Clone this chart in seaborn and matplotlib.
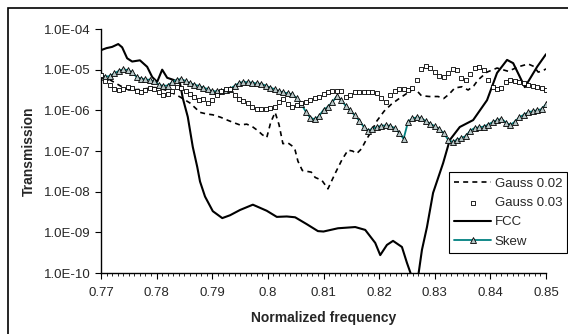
## Transmission vs normalized frequency (log scale)
import numpy as np
import pandas as pd
import seaborn as sns
import matplotlib.pyplot as plt
from matplotlib.patches import Rectangle
from matplotlib.ticker import FixedLocator, MultipleLocator, FuncFormatter

## Data (values are log10 of transmission)
# Gauss 0.02 - dashed line
g02_x = [0.7700, 0.7716, 0.7735, 0.7750, 0.7765, 0.7780, 0.7795, 0.7806, 0.7825, 0.7842,
         0.7860, 0.7878, 0.7890, 0.7901, 0.7915, 0.7927, 0.7940, 0.7950, 0.7962, 0.7972,
         0.7982, 0.7990, 0.7998, 0.8005, 0.8013, 0.8020, 0.8027, 0.8036, 0.8043, 0.8049,
         0.8054, 0.8062, 0.8070, 0.8078, 0.8085, 0.8097, 0.8108, 0.8121, 0.8133, 0.8144,
         0.8152, 0.8160, 0.8168, 0.8177, 0.8186, 0.8196, 0.8209, 0.8222, 0.8235, 0.8248,
         0.8261, 0.8268, 0.8276, 0.8290, 0.8306, 0.8316, 0.8326, 0.8336, 0.8349, 0.8360,
         0.8370, 0.8378, 0.8394, 0.8412, 0.8422, 0.8432, 0.8442, 0.8450, 0.8468, 0.8478,
         0.8486, 0.8494, 0.8500]
g02_log = [-5.16, -5.25, -5.40, -5.50, -5.49, -5.47, -5.44, -5.45, -5.55, -5.67,
           -5.82, -6.05, -6.09, -6.11, -6.17, -6.24, -6.31, -6.36, -6.34, -6.40,
           -6.50, -6.60, -6.67, -6.30, -6.05, -6.35, -6.82, -6.80, -6.87, -6.98,
           -7.25, -7.48, -7.50, -7.52, -7.65, -7.72, -7.93, -7.55, -7.22, -6.98,
           -7.00, -7.06, -6.95, -6.72, -6.52, -6.26, -6.02, -5.85, -5.72, -5.60,
           -5.48, -5.52, -5.64, -5.66, -5.66, -5.71, -5.60, -5.45, -5.42, -5.50,
           -5.40, -5.25, -5.06, -4.96, -5.00, -5.04, -4.98, -4.93, -4.86, -4.92,
           -5.06, -5.03, -4.98]

# FCC - solid line
fcc_x = [0.7700, 0.7710, 0.7720, 0.7731, 0.7738, 0.7747, 0.7756, 0.7770, 0.7783, 0.7792,
         0.7801, 0.7810, 0.7819, 0.7830, 0.7842, 0.7847, 0.7856, 0.7865, 0.7873, 0.7878,
         0.7887, 0.7901, 0.7918, 0.7932, 0.7950, 0.7973, 0.7998, 0.8016, 0.8034, 0.8049,
         0.8070, 0.8090, 0.8100, 0.8126, 0.8157, 0.8175, 0.8193, 0.8202, 0.8214, 0.8225,
         0.8241, 0.8250, 0.8259, 0.8264, 0.8270, 0.8277, 0.8286, 0.8297, 0.8315, 0.8327,
         0.8345, 0.8369, 0.8394, 0.8412, 0.8430, 0.8441, 0.8462, 0.8484, 0.8500]
fcc_log = [-4.52, -4.47, -4.44, -4.37, -4.45, -4.72, -4.80, -4.77, -4.93, -5.18,
           -5.30, -5.00, -5.20, -5.25, -5.33, -5.70, -6.16, -6.90, -7.39, -7.75,
           -8.12, -8.48, -8.65, -8.58, -8.45, -8.32, -8.47, -8.62, -8.61, -8.63,
           -8.80, -8.97, -8.98, -8.90, -8.87, -8.94, -9.26, -9.56, -9.31, -9.21,
           -9.36, -9.75, -10.10, -10.40, -10.10, -9.43, -8.87, -8.03, -7.30, -6.73,
           -6.41, -6.24, -5.75, -5.08, -4.76, -4.84, -5.43, -4.93, -4.62]

# Gauss 0.03 and Skew share the same frequency samples
freq = np.linspace(0.77, 0.85, 101)
g03_log = [-5.13, -5.27, -5.38, -5.47, -5.50, -5.47, -5.43, -5.45, -5.52, -5.56,
           -5.50, -5.44, -5.47, -5.55, -5.62, -5.60, -5.52, -5.42, -5.45, -5.53,
           -5.60, -5.67, -5.74, -5.72, -5.82, -5.75, -5.62, -5.52, -5.48, -5.47,
           -5.62, -5.72, -5.78, -5.82, -5.93, -5.96, -5.97, -5.97, -5.95, -5.92,
           -5.80, -5.72, -5.85, -5.93, -5.87, -5.82, -5.80, -5.75, -5.70, -5.66,
           -5.60, -5.55, -5.53, -5.52, -5.53, -5.68, -5.62, -5.55, -5.54, -5.54,
           -5.54, -5.55, -5.57, -5.70, -5.80, -5.62, -5.52, -5.48, -5.48, -5.49,
           -5.45, -5.25, -4.98, -4.92, -4.97, -5.05, -5.15, -5.17, -5.07, -4.98,
           -5.02, -5.20, -5.25, -5.10, -4.97, -4.93, -5.00, -5.25, -5.42, -5.48,
           -5.45, -5.30, -5.25, -5.27, -5.30, -5.33, -5.38, -5.40, -5.42, -5.45,
           -5.50]
skew_log = [-5.13, -5.17, -5.16, -5.09, -5.03, -4.99, -5.01, -5.06, -5.18, -5.22,
            -5.24, -5.25, -5.29, -5.37, -5.40, -5.39, -5.31, -5.25, -5.23, -5.28,
            -5.33, -5.37, -5.40, -5.44, -5.48, -5.53, -5.53, -5.52, -5.50, -5.47,
            -5.40, -5.33, -5.30, -5.31, -5.32, -5.34, -5.35, -5.39, -5.44, -5.48,
            -5.53, -5.56, -5.58, -5.61, -5.70, -5.84, -6.03, -6.18, -6.22, -6.14,
            -5.99, -5.91, -5.80, -5.65, -5.75, -5.89, -6.00, -6.12, -6.25, -6.40,
            -6.50, -6.45, -6.41, -6.38, -6.37, -6.38, -6.44, -6.55, -6.70, -6.28,
            -6.20, -6.17, -6.19, -6.27, -6.33, -6.39, -6.46, -6.56, -6.72, -6.78,
            -6.72, -6.68, -6.63, -6.50, -6.43, -6.42, -6.40, -6.35, -6.29, -6.24,
            -6.21, -6.30, -6.36, -6.28, -6.17, -6.11, -6.05, -6.02, -6.00, -5.97,
            -5.85]

labels = ["Gauss 0.02", "Gauss 0.03", "FCC", "Skew"]
x_ticks = [0.77, 0.78, 0.79, 0.80, 0.81, 0.82, 0.83, 0.84, 0.85]
y_ticks = [1e-10, 1e-9, 1e-8, 1e-7, 1e-6, 1e-5, 1e-4]

df_g02 = pd.DataFrame({"f": g02_x, "T": 10.0 ** np.array(g02_log)})
df_fcc = pd.DataFrame({"f": fcc_x, "T": 10.0 ** np.array(fcc_log)})
df_g03 = pd.DataFrame({"f": freq, "T": 10.0 ** np.array(g03_log)})
df_skew = pd.DataFrame({"f": freq, "T": 10.0 ** np.array(skew_log)})

## Style
sns.set_style("ticks")
plt.rcParams["font.family"] = ["Liberation Sans", "DejaVu Sans"]
plt.rcParams["font.size"] = 9.5

fig = plt.figure(figsize=(5.68, 3.34), dpi=100)
ax = fig.add_axes([101/568, 1-273/334, (546-101)/568, (273-29)/334])

## Plot
sns.lineplot(data=df_g02, x="f", y="T", ax=ax, color="black", lw=1.2,
             dashes=False, linestyle=(0, (3, 2.5)), label=labels[0])
sns.scatterplot(data=df_g03, x="f", y="T", ax=ax, marker="s", s=12,
                facecolor="white", edgecolor="black", linewidth=0.6,
                label=labels[1], zorder=3)
sns.lineplot(data=df_fcc, x="f", y="T", ax=ax, color="black", lw=1.5,
             label=labels[2])
sns.lineplot(data=df_skew, x="f", y="T", ax=ax, color="#008080", lw=1.3,
             marker="^", markersize=4.6, markerfacecolor="#b8c8c8",
             markeredgecolor="black", markeredgewidth=0.6, label=labels[3])

## Axes
ax.set_yscale("log")
ax.set_xlim(0.77, 0.85)
ax.set_ylim(1e-10, 1e-4)
ax.yaxis.set_major_locator(FixedLocator(y_ticks))
ax.yaxis.set_minor_locator(FixedLocator([]))
ax.yaxis.set_major_formatter(FuncFormatter(lambda v, p: f"{v:.1E}"))
ax.xaxis.set_major_locator(FixedLocator(x_ticks))
ax.xaxis.set_minor_locator(MultipleLocator(0.001))
ax.xaxis.set_major_formatter(FuncFormatter(lambda v, p: f"{round(v, 2):g}"))
ax.tick_params(axis="both", which="major", direction="out", length=4, width=0.8,
               labelsize=9.5, color="black")
ax.tick_params(axis="x", which="minor", direction="out", length=2.5, width=0.7)
ax.tick_params(axis="x", pad=6)
sns.despine(ax=ax)
for s in ["left", "bottom"]:
    ax.spines[s].set_color("black")
    ax.spines[s].set_linewidth(1.0)

ax.set_xlabel("Normalized frequency", fontsize=10, fontweight="bold", labelpad=9)
ax.set_ylabel("Transmission", fontsize=10, fontweight="bold", labelpad=6)

## Legend
h, l = ax.get_legend_handles_labels()
ax.legend(h, l, loc="upper left", bbox_to_anchor=(449/568, 1-172/334),
          bbox_transform=fig.transFigure, borderaxespad=0, frameon=True,
          fancybox=False, edgecolor="black", framealpha=1, fontsize=9.5,
          handlelength=2.8, handletextpad=0.25, labelspacing=0.55, borderpad=0.4)
ax.get_legend().get_frame().set_linewidth(0.8)

## Outer chart border
fig.patches.append(Rectangle((8/568, -0.1), 1.1, 1.1 - 8/334, fill=False,
                             edgecolor="black", lw=1.2, transform=fig.transFigure))

plt.savefig("out.png", dpi=100)
